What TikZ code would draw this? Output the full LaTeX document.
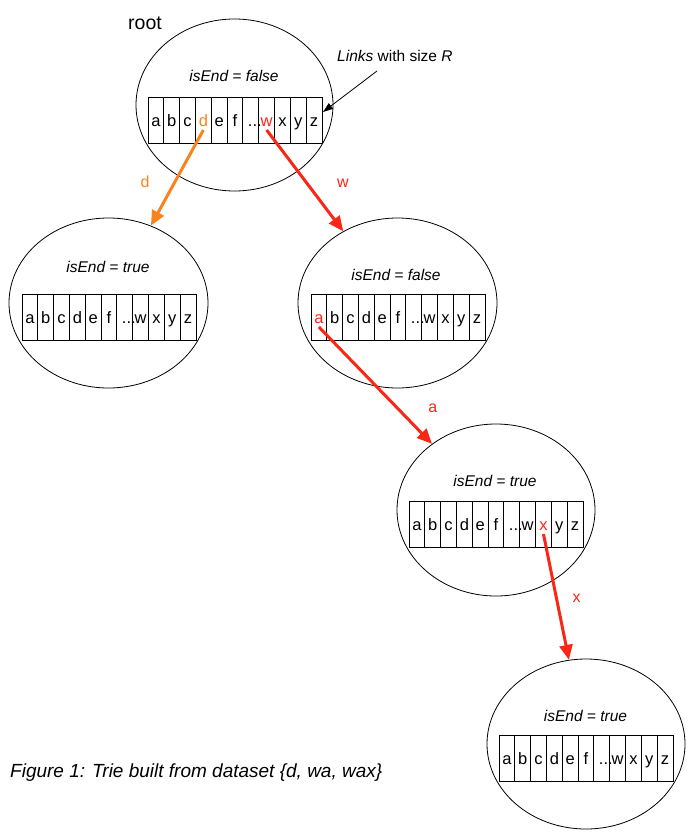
\documentclass[tikz,border=0pt]{standalone}
\usepackage{fontspec}
\setmainfont{Liberation Sans}
\usetikzlibrary{shapes.geometric,arrows.meta,calc}
\definecolor{tor}{RGB}{248,131,31}
\definecolor{tred}{RGB}{250,38,22}
\tikzset{
 trienode/.style={ellipse, draw, line width=0.8pt, inner sep=0pt},
 cellbox/.style={draw, line width=0.9pt, minimum width=174pt, minimum height=46pt, inner sep=0pt},
 letter/.style={font=\fontsize{16.5}{18}\selectfont, anchor=base, inner sep=0pt},
 isend/.style={font=\fontsize{15.5}{17}\selectfont\itshape, anchor=base, inner sep=0pt},
 edgelbl/.style={font=\fontsize{16}{18}\selectfont, anchor=base, inner sep=0pt},
 link/.style={line width=3pt, -{Triangle[length=15pt,width=13pt]}},
}
\newcommand{\tdots}{...}
\newcommand{\cellrow}[7]{%
  \node[cellbox] (#1) at (#2+87,#3+23) {};
  \foreach \i in {1,...,10} \draw[line width=0.9pt] (#2+\i*15.818,#3) -- (#2+\i*15.818,#3+46);
  \foreach \l [count=\i] in {a,b,c,d,e,f,\tdots,w,x,y,z} {
    \ifnum\i=#4 \def\tc{#5}\else\ifnum\i=#6 \def\tc{#7}\else\def\tc{black}\fi\fi
    \ifnum\i=7 \def\xs{4pt}\else\def\xs{0pt}\fi
    \node[letter, text=\tc, xshift=\xs] (#1-\i) at (#2+\i*15.818-7.909,#3+29.5) {\l};
    \coordinate (#1-s\i) at (#2+\i*15.818-7.909,#3+33);
  }
}
\begin{document}
\begin{tikzpicture}[x=1pt,y=-1pt]
\useasboundingbox (0,0) rectangle (692,837);
% trie nodes
\node[trienode, minimum width=197pt, minimum height=172pt] (n1) at (234.5,105) {};
\node[trienode, minimum width=199pt, minimum height=170pt] (n2) at (108.5,303) {};
\node[trienode, minimum width=199pt, minimum height=170pt] (n3) at (397.5,303) {};
\node[trienode, minimum width=198pt, minimum height=172pt] (n4) at (496,510) {};
\node[trienode, minimum width=198pt, minimum height=170pt] (n5) at (586,744) {};
% arrays
\cellrow{r}{148}{97}{4}{tor}{8}{tred}
\cellrow{l}{22}{294}{0}{black}{0}{black}
\cellrow{m}{311}{294}{1}{tred}{0}{black}
\cellrow{p}{409}{501}{9}{tred}{0}{black}
\cellrow{q}{499}{735}{0}{black}{0}{black}
% isEnd labels
\node[isend] (e1) at (234,82) {isEnd = false};
\node[isend] (e2) at (108,272.3) {isEnd = true};
\node[isend] (e3) at (396,280) {isEnd = false};
\node[isend] (e4) at (495,486.7) {isEnd = true};
\node[isend] (e5) at (585.5,721) {isEnd = true};
% root label
\node[anchor=base west, inner sep=0pt, font=\fontsize{19.5}{22}\selectfont] (rootlbl) at (128,29.5) {root};
% links annotation
\node[anchor=base west, inner sep=0pt, font=\fontsize{15.5}{17}\selectfont] (lk) at (337,62) {\textit{Links} with size \textit{R}};
\coordinate (lkstart) at (377,71);
\coordinate (lkend) at (323,112);
\draw[line width=0.8pt, -{Triangle[length=10pt,width=7pt]}] (lkstart) -- (lkend);
% edges
\draw[link, tor] (r-s4) -- (n2);
\draw[link, tred] (r-s8) -- (n3);
\draw[link, tred] (m-s1) -- (n4);
\draw[link, tred] (p-s9) -- (n5);
% edge labels
\node[edgelbl, text=tor] (ld) at (145,187.7) {d};
\node[edgelbl, text=tred] (lw) at (343,187.7) {w};
\node[edgelbl, text=tred] (la) at (432.7,412.7) {a};
\node[edgelbl, text=tred] (lx) at (576.7,602.3) {x};
% caption
\node[anchor=base west, inner sep=0pt, font=\fontsize{19}{22}\selectfont\itshape] (cap) at (10,777) {Figure 1: Trie built from dataset \{d, wa, wax\}};
\end{tikzpicture}
\end{document}
